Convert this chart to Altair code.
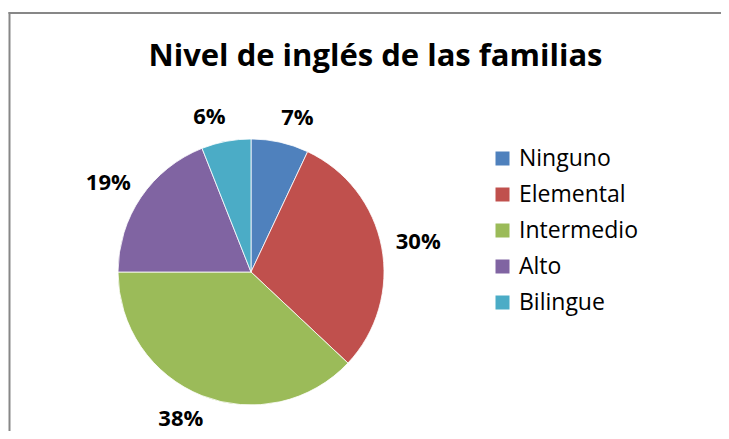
import altair as alt
import pandas as pd

titulo = ["Nivel de inglés de las familias"]
categorias = ["Ninguno", "Elemental", "Intermedio", "Alto", "Bilingue"]
valores = [7, 30, 38, 19, 6]
colores = ["#4F81BD", "#C0504D", "#9BBB59", "#8064A2", "#4BACC6"]

df = pd.DataFrame({
    "categoria": categorias,
    "valor": valores,
    "orden": list(range(len(categorias))),
    "etiqueta": [f"{v}%" for v in valores],
})

W, H = 713, 423
CX, CY, R = 243, 264, 133
FONT = "Open Sans"

base = alt.Chart(df).encode(
    theta=alt.Theta("valor:Q", stack=True),
    order=alt.Order("orden:Q"),
    x=alt.value(CX),
    y=alt.value(CY),
)

pie = base.mark_arc(outerRadius=R, stroke="white", strokeWidth=0.8).encode(
    color=alt.Color(
        "categoria:N",
        scale=alt.Scale(domain=categorias, range=colores),
        sort=categorias,
        legend=alt.Legend(
            title=None,
            orient="none",
            legendX=483,
            legendY=139,
            symbolType="square",
            symbolSize=196,
            symbolStrokeWidth=0,
            labelFont=FONT,
            labelFontSize=23,
            labelColor="#000000",
            labelOffset=5,
            rowPadding=12,
        ),
    )
)

# nudge labels sideways, away from the pie, as the spreadsheet's best-fit layout does
side_nudge = alt.expr(
    "sin(scale('theta', (datum.valor_start + datum.valor_end) / 2)) > 0 ? 12 : -12"
)

labels = base.mark_text(
    radius=158, font=FONT, fontSize=22, fontWeight="bold", color="#000000",
    baseline="middle", align="center", dx=side_nudge,
).encode(text="etiqueta:N")

title_df = pd.DataFrame({"t": titulo})
title = alt.Chart(title_df).mark_text(
    font=FONT, fontSize=31, fontWeight="bold", color="#000000",
    align="center", baseline="alphabetic",
).encode(text="t:N", x=alt.value(367.5), y=alt.value(58))

frame_left = alt.Chart(title_df).mark_rule(color="#878787", strokeWidth=2).encode(
    x=alt.value(1.5), y=alt.value(4), y2=alt.value(H)
)
frame_top = alt.Chart(title_df).mark_rule(color="#878787", strokeWidth=2).encode(
    x=alt.value(0.5), x2=alt.value(W), y=alt.value(5)
)

chart = alt.layer(frame_left, frame_top, pie, labels, title).properties(
    width=W, height=H,
    autosize=alt.AutoSizeParams(type="none"),
    padding=0,
    background="white",
).configure_view(stroke=None)

chart.save("out.html", embed_options={"renderer": "svg", "actions": False})
